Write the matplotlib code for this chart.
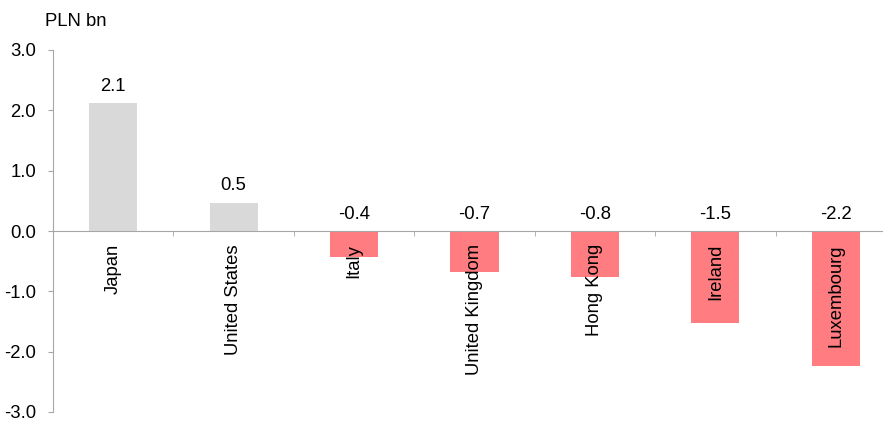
import matplotlib.pyplot as plt
import numpy as np

plt.rcParams['font.family'] = ['Liberation Sans', 'DejaVu Sans']

countries = ["Japan", "United States", "Italy", "United Kingdom",
             "Hong Kong", "Ireland", "Luxembourg"]
values = [2.12, 0.47, -0.43, -0.68, -0.77, -1.52, -2.24]
labels = ["2.1", "0.5", "-0.4", "-0.7", "-0.8", "-1.5", "-2.2"]
yticks = [-3, -2, -1, 0, 1, 2, 3]

fs = 13.3
axis_col = "#A6A6A6"

fig = plt.figure(figsize=(8.83, 4.21), dpi=100)
# axes run a bit past the right edge, like the original
ax = fig.add_axes([53 / 883, 9 / 421, 843 / 883, 362 / 421])

x = np.arange(len(countries))
colors = ["#D9D9D9" if v >= 0 else "#FF7C80" for v in values]
ax.bar(x, values, width=0.4, color=colors, zorder=2)

for xi, v, lab in zip(x, values, labels):
    top = max(v, 0)
    ax.annotate(lab, (xi, top), xytext=(0, 6), textcoords="offset points",
                ha="center", va="bottom", fontsize=fs)

ax.set_xlim(-0.5, len(countries) - 0.5)
ax.set_ylim(-3, 3)
ax.set_yticks(yticks)
ax.set_yticklabels([f"{t:.1f}" for t in yticks])
ax.set_axisbelow(False)  # category names sit on top of the red bars

ax.spines["top"].set_visible(False)
ax.spines["right"].set_visible(False)
ax.spines["bottom"].set_position(("data", 0))
ax.spines["bottom"].set_color(axis_col)
ax.spines["left"].set_color(axis_col)
ax.spines["bottom"].set_zorder(3)

ax.set_xticks(x)
ax.set_xticklabels(countries, rotation=90, fontsize=fs, va="top", ha="center")
ax.set_xticks(np.arange(len(countries) + 1) - 0.5, minor=True)
ax.tick_params(axis="x", which="major", length=0, pad=9.4)
ax.tick_params(axis="x", which="minor", length=3.6, color=axis_col, direction="out")
ax.tick_params(axis="y", length=3.6, color=axis_col, pad=8.6, labelsize=fs)

fig.text(45 / 883, 1 - 21 / 421, "PLN bn", fontsize=fs, ha="left", va="center")

fig.savefig("out.png", dpi=100)
